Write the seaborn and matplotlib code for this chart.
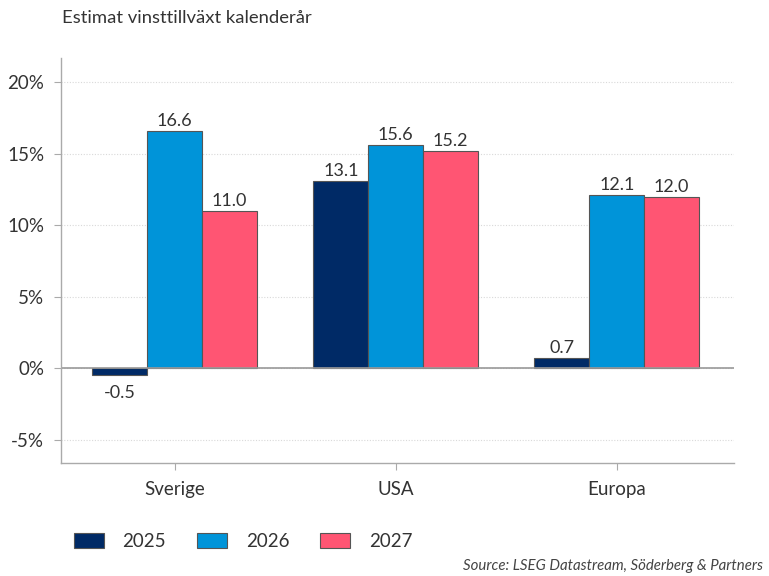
import matplotlib
matplotlib.use("Agg")
import matplotlib.pyplot as plt
import seaborn as sns
import pandas as pd
from matplotlib.ticker import FuncFormatter

regions = ["Sverige", "USA", "Europa"]
years = ["2025", "2026", "2027"]
v2025 = [-0.5, 13.1, 0.7]
v2026 = [16.6, 15.6, 12.1]
v2027 = [11.0, 15.2, 12.0]
colors = ["#002A66", "#0094D9", "#FF5573"]
title = "Estimat vinsttillväxt kalenderår"
source = "Source: LSEG Datastream, Söderberg & Partners"

sns.set_style("white")
plt.rcParams['font.family'] = ['Lato', 'DejaVu Sans']

rows = []
for y, vals in zip(years, [v2025, v2026, v2027]):
    for r, v in zip(regions, vals):
        rows.append({"region": r, "year": y, "value": v})
df = pd.DataFrame(rows)

fig = plt.figure(figsize=(7.69, 5.76), dpi=100)
ax = fig.add_axes([0.0793, 0.196, 0.875, 0.703])

sns.barplot(data=df, x="region", y="value", hue="year", order=regions,
            hue_order=years, palette=colors, width=0.745, ax=ax,
            edgecolor="#555555", linewidth=0.8, saturation=1, errorbar=None)

for cont in ax.containers:
    for bar in cont:
        h = bar.get_height()
        xc = bar.get_x() + bar.get_width() / 2
        if h >= 0:
            ax.annotate(f"{h:.1f}", (xc, h), xytext=(0, 1.5), textcoords="offset points",
                        ha="center", va="bottom", fontsize=13, color="#333333")
        else:
            ax.annotate(f"{h:.1f}", (xc, h), xytext=(0, -7), textcoords="offset points",
                        ha="center", va="top", fontsize=13, color="#333333")

ax.set_ylim(-6.64, 21.7)
ax.set_xlim(-0.515, 2.53)
ax.set_yticks([-5, 0, 5, 10, 15, 20])
ax.yaxis.set_major_formatter(FuncFormatter(lambda v, p: f"{v:.0f}%"))
ax.grid(axis="y", color="#d9d9d9", linestyle=(0, (1, 1.5)), linewidth=0.8)
ax.set_axisbelow(True)
ax.axhline(0, color="#999999", linewidth=1.2, zorder=1)
for s in ["top", "right"]:
    ax.spines[s].set_visible(False)
for s in ["left", "bottom"]:
    ax.spines[s].set_color("#aaaaaa")
    ax.spines[s].set_linewidth(1.0)
ax.tick_params(axis="both", which="major", length=5, width=0.8, color="#aaaaaa",
               labelsize=13.5, labelcolor="#333333", direction="out", left=True, bottom=True)
ax.tick_params(axis="x", pad=8)
ax.tick_params(axis="y", pad=7)
ax.set_xlabel("")
ax.set_ylabel("")

leg = ax.legend(loc="upper left", bbox_to_anchor=(-0.006, -0.13), ncol=3, frameon=False,
                fontsize=13.5, handlelength=1.6, handleheight=0.85, handletextpad=1.0,
                columnspacing=1.65, labelcolor="#333333")
for h in leg.legend_handles:
    h.set_edgecolor("#555555")
    h.set_linewidth(0.8)

fig.text(62/769, 1 - 18/576, title, fontsize=13.3, color="#333333", va="center", ha="left")
fig.text(763/769, 1 - 566/576, source, fontsize=10.8, color="#444444", style="italic",
         va="center", ha="right")

fig.savefig("out.png", dpi=100)
